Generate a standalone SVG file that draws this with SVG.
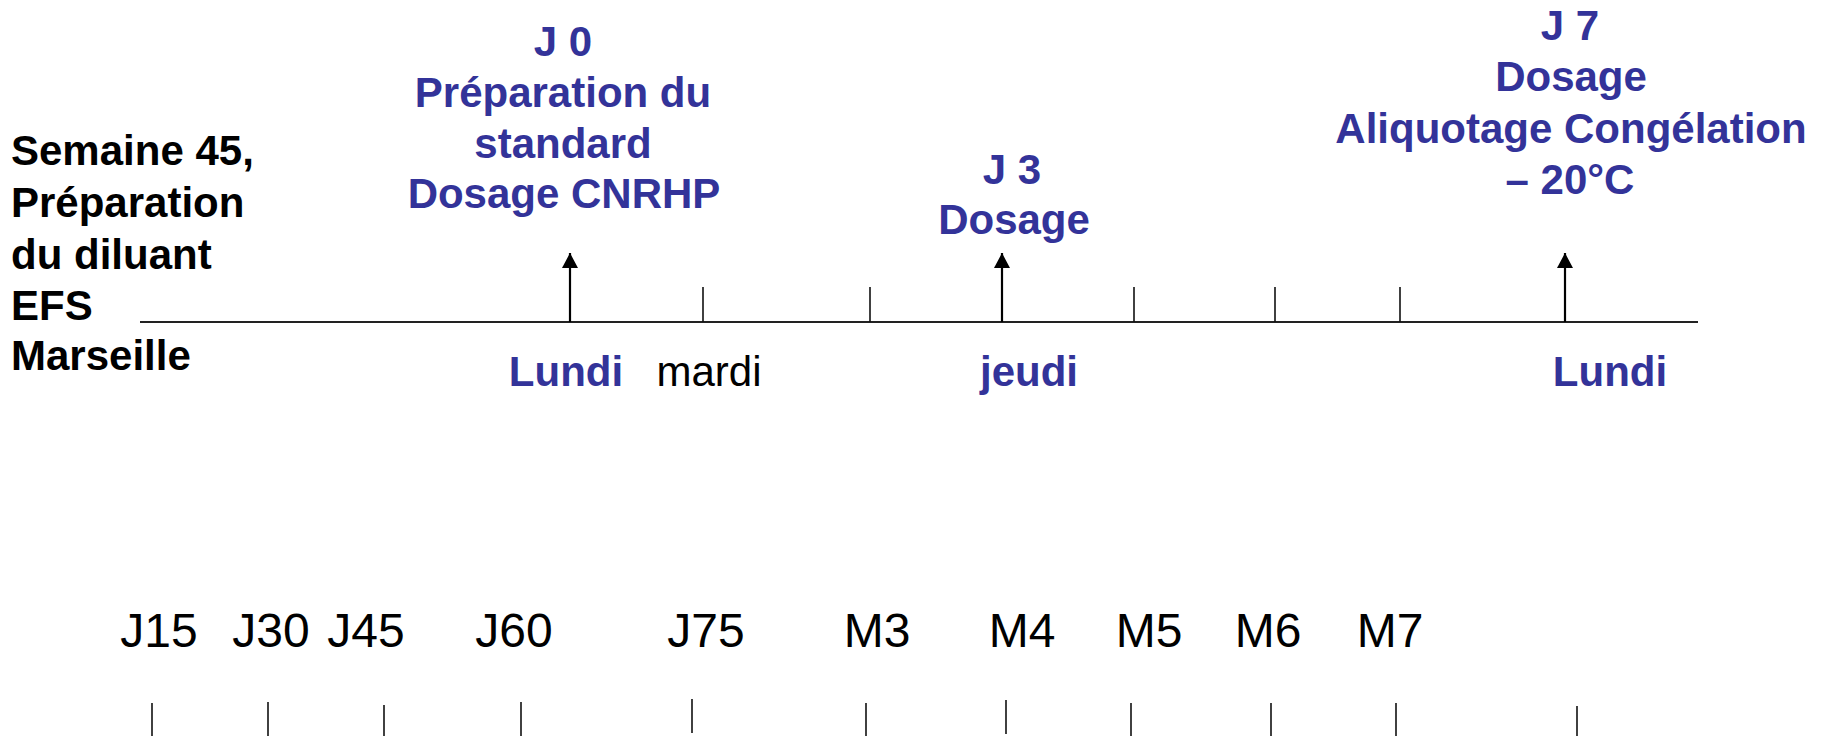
<svg xmlns="http://www.w3.org/2000/svg" width="1829" height="736" viewBox="0 0 1829 736">
<style>
text{font-family:"Liberation Sans",Arial,Helvetica,sans-serif}
.blk{font-weight:bold;font-size:42px;fill:#333399;text-anchor:middle}
.lft{font-weight:bold;font-size:42px;fill:#000}
.day{font-weight:bold;font-size:42px;fill:#333399;text-anchor:middle}
.reg{font-size:42px;fill:#000;text-anchor:middle}
.lbl{font-size:48px;fill:#000;text-anchor:middle}
.axis{stroke:#222;stroke-width:2;fill:none}
.tick{stroke:#111;stroke-width:1.6;fill:none}
.arr{stroke:#000;stroke-width:2.2;fill:none;marker-end:url(#ah)}
</style>
<defs>
<marker id="ah" markerUnits="userSpaceOnUse" markerWidth="16" markerHeight="16" viewBox="0 0 16 16" refX="15" refY="8" orient="auto">
<path d="M0,0 L15,8 L0,16 Z" fill="#000"/>
</marker>
</defs>
<rect width="1829" height="736" fill="#fff"/>

<g id="left-label">
<text class="lft" x="11" y="165">Semaine 45,</text>
<text class="lft" x="11" y="217">Préparation</text>
<text class="lft" x="11" y="269">du diluant</text>
<text class="lft" x="11" y="320">EFS</text>
<text class="lft" x="11" y="370">Marseille</text>
</g>

<g id="j0">
<text class="blk" x="563" y="56">J 0</text>
<text class="blk" x="563" y="107">Préparation du</text>
<text class="blk" x="563" y="158">standard</text>
<text class="blk" x="564" y="208">Dosage CNRHP</text>
</g>

<g id="j3">
<text class="blk" x="1012" y="184">J 3</text>
<text class="blk" x="1014" y="234">Dosage</text>
</g>

<g id="j7">
<text class="blk" x="1570" y="40">J 7</text>
<text class="blk" x="1571" y="91">Dosage</text>
<text class="blk" x="1571" y="143">Aliquotage Congélation</text>
<text class="blk" x="1570" y="194">– 20°C</text>
</g>

<g id="days">
<text class="day" x="566" y="386">Lundi</text>
<text class="reg" x="709" y="386">mardi</text>
<text class="day" x="1029" y="386">jeudi</text>
<text class="day" x="1610" y="386">Lundi</text>
</g>

<g id="bottom-labels">
<text class="lbl" x="159" y="647">J15</text>
<text class="lbl" x="271" y="647">J30</text>
<text class="lbl" x="366" y="647">J45</text>
<text class="lbl" x="514" y="647">J60</text>
<text class="lbl" x="706" y="647">J75</text>
<text class="lbl" x="877" y="647">M3</text>
<text class="lbl" x="1022" y="647">M4</text>
<text class="lbl" x="1149" y="647">M5</text>
<text class="lbl" x="1268" y="647">M6</text>
<text class="lbl" x="1390" y="647">M7</text>
</g>

<g id="connectors">
<line class="axis" x1="140" y1="322" x2="1698" y2="322"/>
<line class="tick" x1="703" y1="287" x2="703" y2="322"/>
<line class="tick" x1="870" y1="287" x2="870" y2="322"/>
<line class="tick" x1="1134" y1="287" x2="1134" y2="322"/>
<line class="tick" x1="1275" y1="287" x2="1275" y2="322"/>
<line class="tick" x1="1400" y1="287" x2="1400" y2="322"/>
<line class="arr" x1="570" y1="322" x2="570" y2="253"/>
<line class="arr" x1="1002" y1="322" x2="1002" y2="253"/>
<line class="arr" x1="1565" y1="322" x2="1565" y2="253"/>
<line class="tick" x1="152" y1="703" x2="152" y2="736"/>
<line class="tick" x1="268" y1="702" x2="268" y2="736"/>
<line class="tick" x1="384" y1="705" x2="384" y2="736"/>
<line class="tick" x1="521" y1="702" x2="521" y2="736"/>
<line class="tick" x1="692" y1="699" x2="692" y2="733"/>
<line class="tick" x1="866" y1="703" x2="866" y2="736"/>
<line class="tick" x1="1006" y1="700" x2="1006" y2="734"/>
<line class="tick" x1="1131" y1="703" x2="1131" y2="736"/>
<line class="tick" x1="1271" y1="703" x2="1271" y2="736"/>
<line class="tick" x1="1396" y1="703" x2="1396" y2="736"/>
<line class="tick" x1="1577" y1="706" x2="1577" y2="736"/>
</g>
</svg>
